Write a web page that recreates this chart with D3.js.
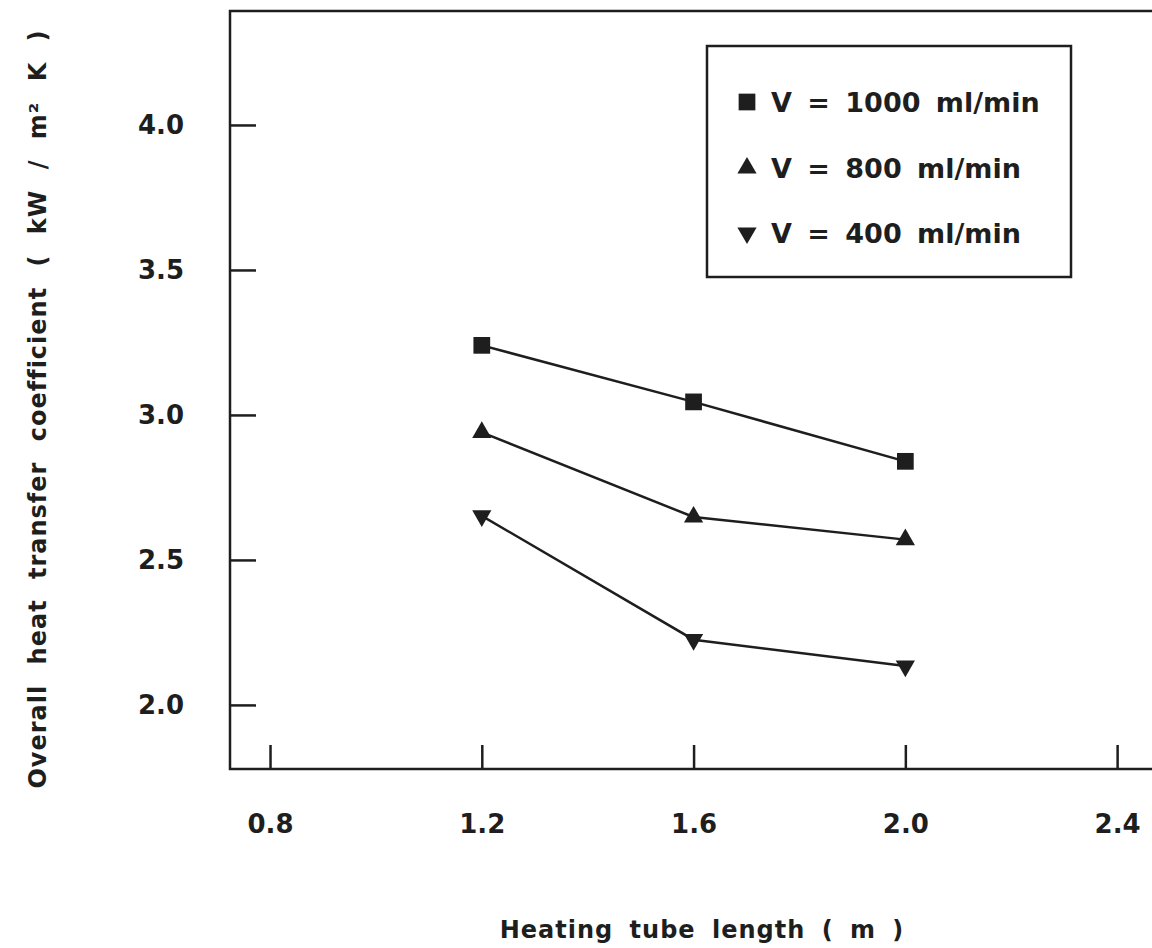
<!DOCTYPE html>
<html lang="en">
<head>
<meta charset="UTF-8">
<title>Heat transfer coefficient vs tube length</title>
<script src="https://cdn.jsdelivr.net/npm/d3@7/dist/d3.min.js"></script>
<style>
  body { margin: 0; background: #fff; }
  text { font-family: "DejaVu Sans", sans-serif; font-weight: bold; fill: #1e1e1e; }
</style>
</head>
<body>
<svg width="1152" height="948"></svg>
<script>
// data
var lengths = [1.2, 1.6, 2.0];
var v1000 = [3.24, 3.045, 2.84];
var v800 = [2.94, 2.648, 2.57];
var v400 = [2.652, 2.225, 2.134];
var seriesNames = ["V = 1000 ml/min", "V = 800 ml/min", "V = 400 ml/min"];
var xTicks = [0.8, 1.2, 1.6, 2.0, 2.4];
var yTicks = [2.0, 2.5, 3.0, 3.5, 4.0];

var series = [
  {name: seriesNames[0], values: v1000, sym: d3.symbolSquare},
  {name: seriesNames[1], values: v800, sym: d3.symbolTriangle},
  {name: seriesNames[2], values: v400, sym: "down"}
];

var ink = "#1e1e1e";
var svg = d3.select("svg");

var x = d3.scaleLinear().domain([0.7244, 2.481]).range([230, 1160]);
var y = d3.scaleLinear().domain([1.779, 4.393]).range([769, 11]);

// frame (right side runs off the page)
svg.append("path")
  .attr("d", "M1160,11H230V769H1160")
  .attr("fill", "none").attr("stroke", ink).attr("stroke-width", 2.5);

var yAxis = svg.append("g").attr("transform", "translate(230,0)")
  .call(d3.axisLeft(y).tickValues(yTicks).tickSize(-26).tickPadding(46).tickFormat(d3.format(".1f")));
var xAxis = svg.append("g").attr("transform", "translate(0,769)")
  .call(d3.axisBottom(x).tickValues(xTicks).tickSize(-24).tickPadding(46).tickFormat(d3.format(".1f")));

[yAxis, xAxis].forEach(function(g){
  g.select(".domain").remove();
  g.selectAll(".tick line").attr("stroke", ink).attr("stroke-width", 2.5);
  g.selectAll(".tick text").attr("font-size", 26).attr("font-family", "DejaVu Sans").attr("fill", ink);
});

// marker shapes
function marker(sym) {
  if (sym === "down") {
    return function(){ return d3.symbol().type(d3.symbolTriangle).size(160)(); };
  }
  return function(){ return d3.symbol().type(sym).size(sym === d3.symbolSquare ? 280 : 160)(); };
}

var line = d3.line().x(function(d){ return x(d[0]); }).y(function(d){ return y(d[1]); });

series.forEach(function(s){
  var pts = lengths.map(function(l, i){ return [l, s.values[i]]; });
  svg.append("path").datum(pts)
    .attr("d", line).attr("fill", "none").attr("stroke", ink).attr("stroke-width", 2.5);
  svg.selectAll(null).data(pts).enter().append("path")
    .attr("d", marker(s.sym))
    .attr("transform", function(d){
      return "translate(" + x(d[0]) + "," + y(d[1]) + ")" + (s.sym === "down" ? " rotate(180)" : "");
    })
    .attr("fill", ink);
});

// legend
var leg = svg.append("g");
leg.append("rect").attr("x", 707).attr("y", 46).attr("width", 364).attr("height", 231)
  .attr("fill", "#fff").attr("stroke", ink).attr("stroke-width", 2.5);
var rowY = [102, 168, 233];
series.forEach(function(s, i){
  leg.append("path").attr("d", marker(s.sym))
    .attr("transform", "translate(747," + rowY[i] + ")" + (s.sym === "down" ? " rotate(180)" : ""))
    .attr("fill", ink);
  leg.append("text").attr("x", 771).attr("y", rowY[i] + 10)
    .attr("font-size", 27).attr("word-spacing", 6)
    .text(s.name);
});

// axis titles
svg.append("text")
  .attr("transform", "translate(46,409) rotate(-90)")
  .attr("text-anchor", "middle").attr("font-size", 24)
  .attr("letter-spacing", 1).attr("word-spacing", 11)
  .text("Overall heat transfer coefficient ( kW / m² K )");

svg.append("text")
  .attr("x", 702).attr("y", 938)
  .attr("text-anchor", "middle").attr("font-size", 24)
  .attr("letter-spacing", 1).attr("word-spacing", 7)
  .text("Heating tube length ( m )");
</script>
</body>
</html>
